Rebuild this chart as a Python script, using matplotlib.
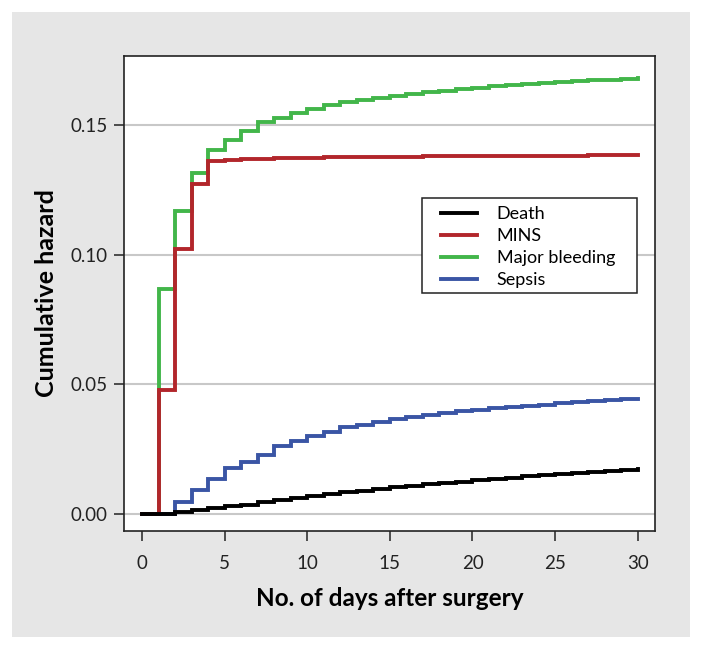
import matplotlib
matplotlib.use("Agg")
import matplotlib.pyplot as plt
from matplotlib.patches import Rectangle
from matplotlib.lines import Line2D

plt.rcParams["font.family"] = ["Lato", "DejaVu Sans"]

# cumulative hazard at the start of each day (step function, held until next day)
DAYS = list(range(0, 31))
DEATH = [0.0, 0.0, 0.0008, 0.0015, 0.0022, 0.0030, 0.0037, 0.0045, 0.0053, 0.0061,
         0.0068, 0.0076, 0.0084, 0.0091, 0.0098, 0.0105, 0.0110, 0.0115, 0.0120, 0.0125,
         0.0130, 0.0135, 0.0140, 0.0145, 0.0149, 0.0153, 0.0158, 0.0162, 0.0166, 0.0170,
         0.0175]
MINS = [0.0, 0.0477, 0.1020, 0.1272, 0.1360, 0.1365, 0.1368, 0.1370, 0.1371, 0.1372,
        0.1373, 0.1374, 0.1375, 0.1376, 0.1376, 0.1377, 0.1377, 0.1378, 0.1378, 0.1379,
        0.1379, 0.1380, 0.1380, 0.1380, 0.1381, 0.1381, 0.1381, 0.1382, 0.1382, 0.1382,
        0.1383]
BLEEDING = [0.0, 0.0868, 0.1169, 0.1314, 0.1402, 0.1443, 0.1477, 0.1509, 0.1526, 0.1547,
            0.1562, 0.1576, 0.1586, 0.1595, 0.1605, 0.1612, 0.1619, 0.1625, 0.1631, 0.1637,
            0.1643, 0.1648, 0.1653, 0.1657, 0.1661, 0.1665, 0.1668, 0.1671, 0.1674, 0.1677,
            0.1680]
SEPSIS = [0.0, 0.0, 0.0047, 0.0094, 0.0137, 0.0177, 0.0201, 0.0228, 0.0263, 0.0283,
          0.0301, 0.0317, 0.0334, 0.0345, 0.0355, 0.0365, 0.0375, 0.0383, 0.0390, 0.0396,
          0.0402, 0.0408, 0.0413, 0.0418, 0.0422, 0.0427, 0.0431, 0.0435, 0.0438, 0.0442,
          0.0445]

LABELS = ["Death", "MINS", "Major bleeding", "Sepsis"]
COLORS = {"Death": "#000000", "MINS": "#b2262b", "Major bleeding": "#42b64a",
          "Sepsis": "#3a55a5"}
XTICKS = [0, 5, 10, 15, 20, 25, 30]
YTICKS = [0.00, 0.05, 0.10, 0.15]

fig = plt.figure(figsize=(7.03, 6.49), dpi=100, facecolor="white")
fig.patches.append(Rectangle((12 / 703, 1 - 637 / 649), 678 / 703, 625 / 649,
                             transform=fig.transFigure, facecolor="#e6e6e6",
                             edgecolor="none", zorder=-10))
ax = fig.add_axes([124 / 703, 1 - 531 / 649, 531 / 703, 475 / 649])
ax.set_facecolor("white")

for y in YTICKS:
    ax.axhline(y, color="#c8c8c8", lw=1.5, zorder=1)

lw = 2.8
series = [("Major bleeding", BLEEDING), ("Sepsis", SEPSIS), ("MINS", MINS), ("Death", DEATH)]
for z, (name, vals) in enumerate(series):
    ax.step(DAYS, vals, where="post", color=COLORS[name], lw=lw,
            solid_joinstyle="miter", zorder=3 + z)

ax.set_xlim(-1.1, 31.05)
ax.set_ylim(-0.0065, 0.1765)
ax.set_xticks(XTICKS)
ax.set_yticks(YTICKS)
ax.set_yticklabels([f"{v:.2f}" for v in YTICKS])
ax.tick_params(axis="both", direction="out", length=7, width=1.1, color="#222222",
               labelsize=13.5, labelcolor="#222222", pad=5)
ax.tick_params(axis="x", pad=10)
for s in ax.spines.values():
    s.set_color("#222222")
    s.set_linewidth(1.2)

ax.set_xlabel("No. of days after surgery", fontsize=17.5, fontweight="bold", labelpad=11)
ax.set_ylabel("Cumulative hazard", fontsize=18, fontweight="bold", labelpad=9)

# legend box drawn separately so its inner margins match the original
ax.add_patch(Rectangle((0.5606, 0.501), 0.4049, 0.200, transform=ax.transAxes,
                       facecolor="white", edgecolor="#222222", lw=1.1, zorder=8))
handles = [Line2D([0], [0], color=COLORS[n], lw=lw) for n in LABELS]
leg = ax.legend(handles, LABELS, loc="upper left", bbox_to_anchor=(0.5964, 0.684),
                fontsize=13, frameon=False, handlelength=2.0, handletextpad=1.1,
                labelspacing=0.33, borderpad=0, borderaxespad=0)
leg.set_zorder(9)

fig.savefig("out.png", dpi=100, facecolor="white")
